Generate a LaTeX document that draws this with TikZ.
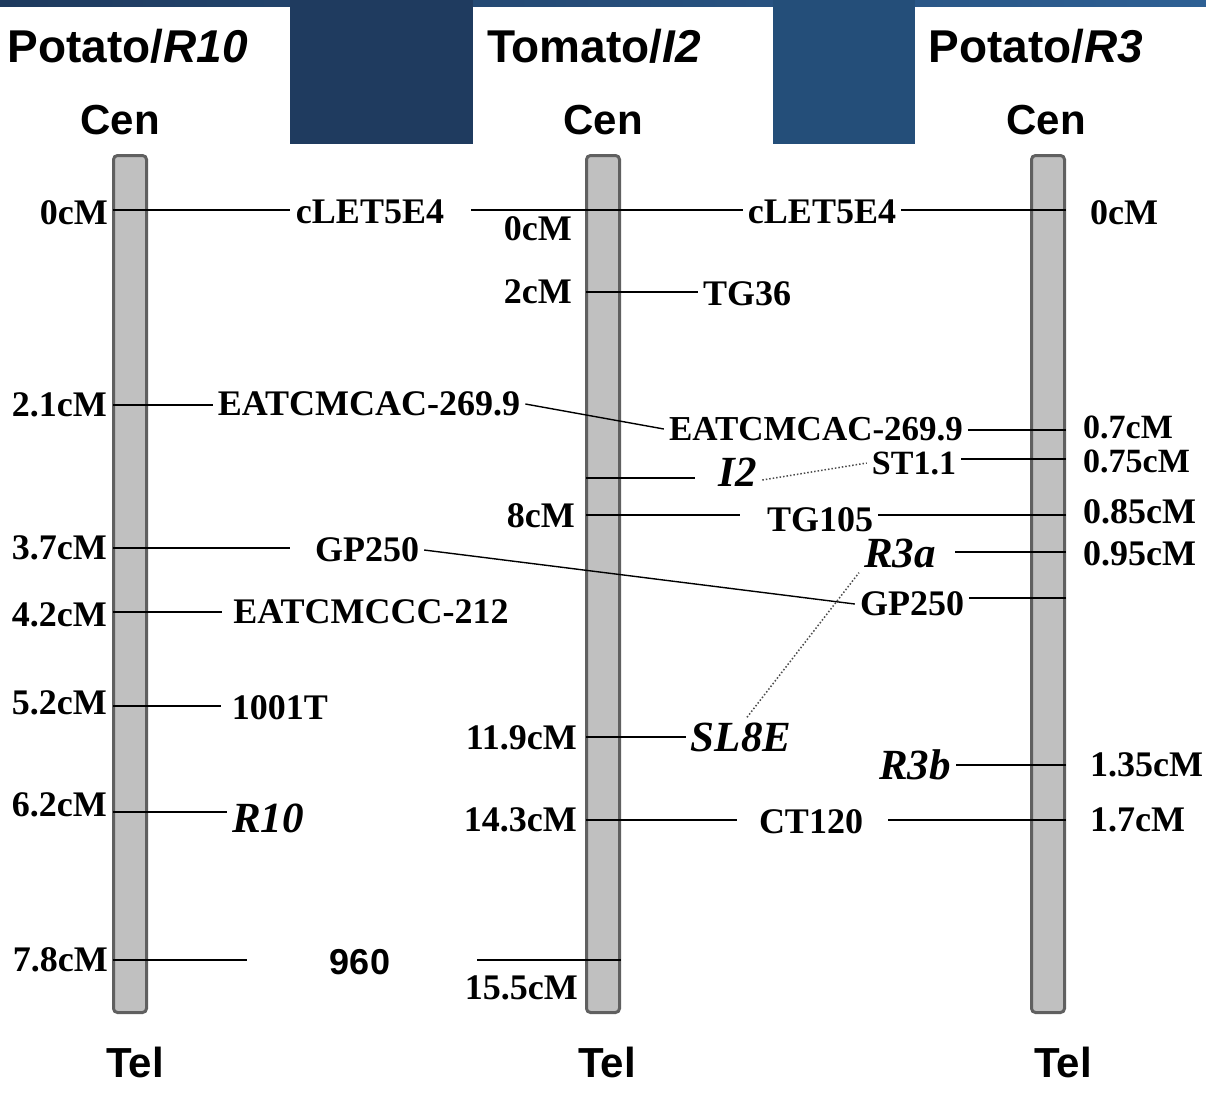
\documentclass[tikz,border=0pt]{standalone}
\usepackage{fontspec}
\setmainfont{Liberation Serif}
\setsansfont{Liberation Sans}
\definecolor{bandL}{HTML}{1E3A5E}
\definecolor{bandR}{HTML}{2E6094}
\definecolor{panelA}{HTML}{1F3B5F}
\definecolor{panelB}{HTML}{244E79}
\definecolor{chromfill}{HTML}{C0C0C0}
\definecolor{chromedge}{HTML}{606060}
\begin{document}
\begin{tikzpicture}[x=1pt,y=-1pt,
  mklab/.style={font=\fontsize{36}{42}\selectfont\bfseries, inner sep=5pt},
  genelab/.style={font=\fontsize{43}{48}\selectfont\bfseries\itshape, inner sep=5pt},
  cmlab/.style={font=\fontsize{36}{42}\selectfont\bfseries, inner sep=0pt},
  tightlab/.style={font=\fontsize{34}{40}\selectfont\bfseries, inner sep=0pt},
  ttllab/.style={font=\fontsize{46}{52}\selectfont\sffamily\bfseries, inner sep=0pt},
  endlab/.style={font=\fontsize{42}{48}\selectfont\sffamily\bfseries, inner sep=0pt},
  chrombox/.style={draw=chromedge, line width=3pt, fill=chromfill, rounded corners=4pt,
    minimum width=33pt, minimum height=857pt, inner sep=0pt},
  link/.style={line width=1.4pt, black},
  dotlink/.style={line width=1.5pt, dotted, black!70}]
\useasboundingbox (0,0) rectangle (1206,1093);
\fill[white] (0,0) rectangle (1206,1093);
% banner
\shade[left color=bandL, right color=bandR] (0,0) rectangle (1206,6);
\fill[panelA] (290,0) rectangle (473,144);
\fill[panelB] (773,0) rectangle (915,144);
% titles
\node[ttllab] (t1) at (128,46) {Potato/\textit{R10}};
\node[ttllab] (t2) at (594,46) {Tomato/\textit{I2}};
\node[ttllab] (t3) at (1036,46) {Potato/\textit{R3}};
\node[endlab] (cen1) at (120,120) {Cen};
\node[endlab] (cen2) at (603,120) {Cen};
\node[endlab] (cen3) at (1046,120) {Cen};
\node[endlab] (tel1) at (135,1062) {Tel};
\node[endlab] (tel2) at (607,1062) {Tel};
\node[endlab] (tel3) at (1063,1062) {Tel};
% chromosomes
\node[chrombox] (c1) at (130,584) {};
\node[chrombox] (c2) at (603,584) {};
\node[chrombox] (c3) at (1048,584) {};
% cM labels, left
\node[cmlab, anchor=east] (lA0) at (108,213) {0cM};
\node[cmlab, anchor=east] (lA1) at (107,405) {2.1cM};
\node[cmlab, anchor=east] (lA2) at (107,548) {3.7cM};
\node[cmlab, anchor=east] (lA3) at (107,615) {4.2cM};
\node[cmlab, anchor=east] (lA4) at (107,703) {5.2cM};
\node[cmlab, anchor=east] (lA5) at (107,805) {6.2cM};
\node[cmlab, anchor=east] (lA6) at (108,960) {7.8cM};
% cM labels, middle
\node[cmlab, anchor=east] (lB0) at (572,229) {0cM};
\node[cmlab, anchor=east] (lB1) at (572,292) {2cM};
\node[cmlab, anchor=east] (lB2) at (575,516) {8cM};
\node[cmlab, anchor=east] (lB3) at (577,738) {11.9cM};
\node[cmlab, anchor=east] (lB4) at (577,820) {14.3cM};
\node[cmlab, anchor=east] (lB5) at (578,988) {15.5cM};
% cM labels, right
\node[cmlab, anchor=west] (lC0) at (1090,213) {0cM};
\node[tightlab, anchor=west] (lC1) at (1083,427) {0.7cM};
\node[tightlab, anchor=west] (lC2) at (1083,461) {0.75cM};
\node[cmlab, anchor=west] (lC3) at (1083,512) {0.85cM};
\node[cmlab, anchor=west] (lC4) at (1083,554) {0.95cM};
\node[cmlab, anchor=west] (lC5) at (1090,765) {1.35cM};
\node[cmlab, anchor=west] (lC6) at (1090,820) {1.7cM};
% markers
\node[mklab] (cletA) at (370,212) {cLET5E4};
\node[mklab] (eacA) at (369,404) {EATCMCAC-269.9};
\node[mklab] (gpA) at (367,550) {GP250};
\node[mklab] (eccA) at (371,612) {EATCMCCC-212};
\node[mklab] (t1001) at (280,708) {1001T};
\node[genelab] (r10) at (268,818) {R10};
\node[font=\fontsize{36}{42}\selectfont\sffamily\bfseries, inner sep=5pt] (n960) at (360,962) {960};
\node[mklab] (tg36) at (747,294) {TG36};
\node[genelab] (i2) at (738,472) {I2};
\node[mklab] (tg105) at (820,520) {TG105};
\node[genelab] (sl8e) at (741,737) {SL8E};
\node[mklab] (ct120) at (811,822) {CT120};
\node[mklab] (cletB) at (822,212) {cLET5E4};
\node[mklab, font=\fontsize{35}{40}\selectfont\bfseries] (eacB) at (816,429) {EATCMCAC-269.9};
\node[mklab, font=\fontsize{34}{40}\selectfont\bfseries] (st11) at (914,463) {ST1.1};
\node[genelab] (r3a) at (900,553) {R3a};
\node[mklab] (gpB) at (912,604) {GP250};
\node[genelab] (r3b) at (915,765) {R3b};
% anchor points on chromosomes
\coordinate (a0) at (113,210);
\coordinate (a21) at (113,405);
\coordinate (a37) at (113,548);
\coordinate (a42) at (113,612);
\coordinate (a52) at (113,706);
\coordinate (a62) at (113,812);
\coordinate (a78) at (113,960);
\coordinate (b2) at (586,292);
\coordinate (bi2) at (586,478);
\coordinate (b8) at (586,515);
\coordinate (b119) at (586,737);
\coordinate (b143) at (586,820);
\coordinate (b155) at (621,960);
\coordinate (r0) at (1066,210);
\coordinate (r07) at (1066,430);
\coordinate (r075) at (1066,459);
\coordinate (r085) at (1066,515);
\coordinate (r095) at (1066,552);
\coordinate (rgp) at (1066,598);
\coordinate (r135) at (1066,765);
\coordinate (r17) at (1066,820);
% left connectors
\draw[link, shorten >=1pt] (a0) -- (cletA.west |- a0);
\draw[link] (a21) -- (eacA.west |- a21);
\draw[link, shorten >=20pt] (a37) -- (gpA.west |- a37);
\draw[link, shorten >=6pt] (a42) -- (eccA.west |- a42);
\draw[link, shorten >=6pt] (a52) -- (t1001.west |- a52);
\draw[link] (a62) -- (r10.west |- a62);
\draw[link, shorten >=78pt] (a78) -- (n960.west |- a78);
\draw[link, shorten <=82pt] (n960.east |- b155) -- (b155);
% cross connectors
\draw[link, shorten <=22pt] (cletA.east |- a0) -- (cletB.west |- a0);
\draw[link] (cletB.east |- r0) -- (r0);
\draw[link] (eacA.east) -- (eacB.west);
\draw[link] (eacB.east |- r07) -- (r07);
\draw[link] (gpA.east) -- (gpB.west);
\draw[link] (gpB.east |- rgp) -- (rgp);
% middle connectors
\draw[link] (b2) -- (tg36.west |- b2);
\draw[link, shorten >=19pt] (bi2) -- (i2.west |- bi2);
\draw[dotlink] ([yshift=-8pt]i2.east) -- (st11.west);
\draw[link, shorten >=22pt] (b8) -- (tg105.west |- b8);
\draw[link] (tg105.east |- r085) -- (r085);
\draw[link] (b119) -- (sl8e.west |- b119);
\draw[dotlink] ([xshift=6pt]sl8e.north) -- (r3a.south west);
\draw[link, shorten >=17pt] (b143) -- (ct120.west |- b143);
\draw[link, shorten <=20pt] (ct120.east |- r17) -- (r17);
% right connectors
\draw[link] (st11.east |- r075) -- (r075);
\draw[link, shorten <=14pt] (r3a.east |- r095) -- (r095);
\draw[link] (r3b.east |- r135) -- (r135);
\end{tikzpicture}
\end{document}
